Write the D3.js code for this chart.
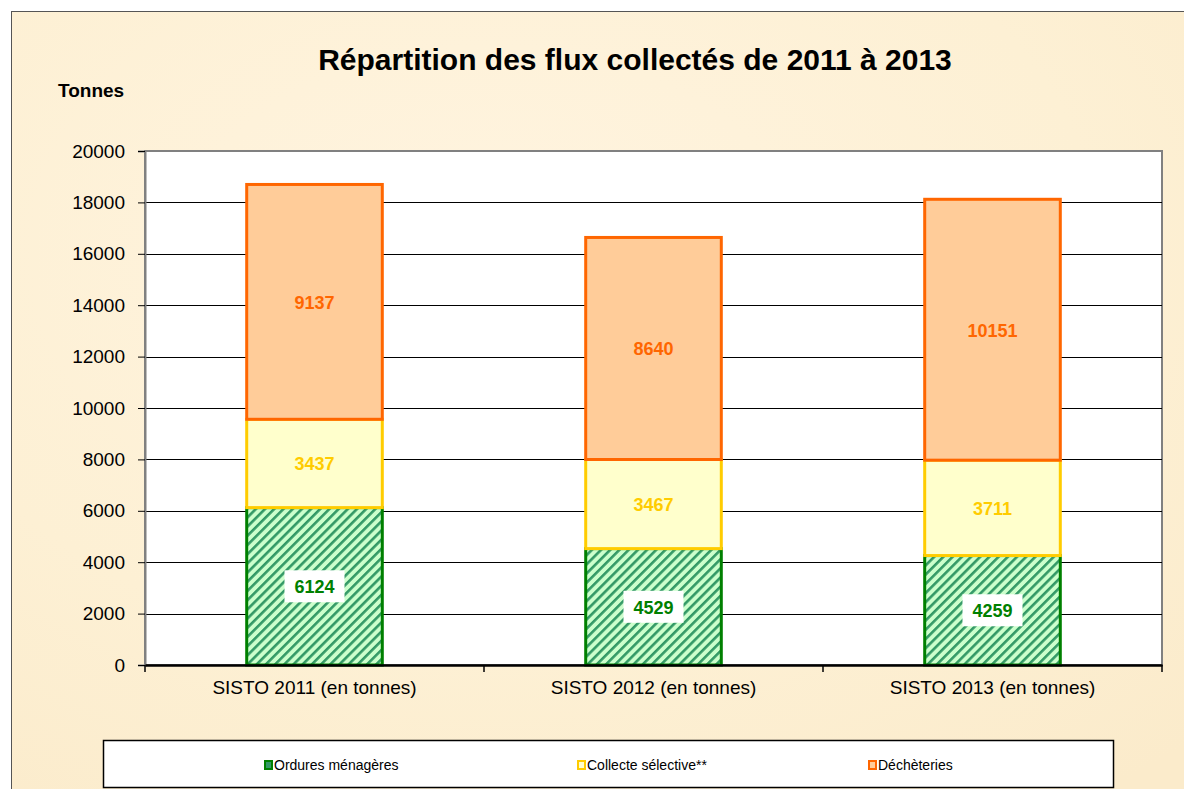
<!DOCTYPE html>
<html>
<head>
<meta charset="utf-8">
<script src="https://cdn.jsdelivr.net/npm/d3@7"></script>
<style>
  body { margin: 0; background: #fff; }
  svg { display: block; font-family: "Liberation Sans", Arial, sans-serif; }
</style>
</head>
<body>
<div id="chart"></div>
<script>
// data
const categories = ["SISTO 2011 (en tonnes)", "SISTO 2012 (en tonnes)", "SISTO 2013 (en tonnes)"];
const seriesNames = ["Ordures ménagères", "Collecte sélective**", "Déchèteries"];
const ordures = [6124, 4529, 4259];
const collecte = [3437, 3467, 3711];
const decheteries = [9137, 8640, 10151];
const yTicks = [0, 2000, 4000, 6000, 8000, 10000, 12000, 14000, 16000, 18000, 20000];

const W = 1184, H = 789;
const plot = {left: 145, top: 151, right: 1162, bottom: 665};

const svg = d3.select("#chart")
  .append("svg")
    .attr("width", W)
    .attr("height", H);

const defs = svg.append("defs");

// parchment-ish background
const bg = defs.append("radialGradient").attr("id", "parch")
  .attr("cx", "40%").attr("cy", "30%").attr("r", "85%");
bg.append("stop").attr("offset", "0%").attr("stop-color", "#fff4e0");
bg.append("stop").attr("offset", "60%").attr("stop-color", "#fdf0d4");
bg.append("stop").attr("offset", "100%").attr("stop-color", "#fbebcb");

// diagonal hatch for the green series
const hatch = defs.append("pattern")
  .attr("id", "hatch")
  .attr("patternUnits", "userSpaceOnUse")
  .attr("width", 6.5).attr("height", 6.5)
  .attr("patternTransform", "rotate(45)");
hatch.append("rect").attr("width", 6.5).attr("height", 6.5).attr("fill", "#ccffcc");
hatch.append("rect").attr("x", 0).attr("width", 2.6).attr("height", 6.5).attr("fill", "#339966");

svg.append("rect")
  .attr("x", 11.5).attr("y", 11.5)
  .attr("width", W + 10).attr("height", H + 10)
  .attr("fill", "url(#parch)")
  .attr("stroke", "#555").attr("stroke-width", 1);

// title
svg.append("text")
  .attr("x", 635).attr("y", 70)
  .attr("text-anchor", "middle")
  .style("font-size", "30px").style("font-weight", "bold")
  .text("Répartition des flux collectés de 2011 à 2013");

svg.append("text")
  .attr("x", 58).attr("y", 97)
  .style("font-size", "19px").style("font-weight", "bold")
  .text("Tonnes");

const x = d3.scaleBand()
  .domain(categories)
  .range([plot.left, plot.right])
  .paddingInner(0).paddingOuter(0);

const barW = x.bandwidth() * 0.4;

const y = d3.scaleLinear()
  .domain([0, 20000])
  .range([plot.bottom, plot.top]);

// plot area
svg.append("rect")
  .attr("x", plot.left).attr("y", plot.top)
  .attr("width", plot.right - plot.left).attr("height", plot.bottom - plot.top)
  .attr("fill", "#fff")
  .attr("stroke", "#808080").attr("stroke-width", 2);

// gridlines
svg.append("g")
  .selectAll("line")
  .data(yTicks.filter(d => d > 0 && d < 20000))
  .join("line")
    .attr("x1", plot.left).attr("x2", plot.right)
    .attr("y1", d => Math.round(y(d)) + 0.5).attr("y2", d => Math.round(y(d)) + 0.5)
    .attr("stroke", "#000").attr("stroke-width", 1.2);

// y axis
const yAxis = svg.append("g")
  .attr("transform", `translate(${plot.left},0)`)
  .call(d3.axisLeft(y).tickValues(yTicks).tickFormat(d3.format("d")).tickSize(7).tickPadding(13));
yAxis.select(".domain").attr("stroke", "#808080").attr("stroke-width", 2);
yAxis.selectAll(".tick line").attr("stroke", "#000");
yAxis.selectAll("text").style("font-size", "19px").attr("fill", "#000")
  .style("font-family", "'Liberation Sans', Arial, sans-serif");

// stacked data
const rows = categories.map((c, i) => ({cat: c, om: ordures[i], cs: collecte[i], dec: decheteries[i]}));
const stack = d3.stack().keys(["om", "cs", "dec"]);
const layers = stack(rows);

const fills = ["url(#hatch)", "#ffffcc", "#ffcc99"];
const strokes = ["#008000", "#ffcc00", "#ff6600"];
const textColors = ["#008000", "#ffcc00", "#ff6600"];

layers.forEach((layer, li) => {
  const g = svg.append("g");
  g.selectAll("rect")
    .data(layer)
    .join("rect")
      .attr("x", d => x(d.data.cat) + (x.bandwidth() - barW) / 2)
      .attr("y", d => y(d[1]))
      .attr("width", barW)
      .attr("height", d => y(d[0]) - y(d[1]))
      .attr("fill", fills[li])
      .attr("stroke", strokes[li])
      .attr("stroke-width", 3);
});

// value labels
layers.forEach((layer, li) => {
  const g = svg.append("g");
  layer.forEach(d => {
    const cx = x(d.data.cat) + x.bandwidth() / 2;
    const cy = (y(d[0]) + y(d[1])) / 2;
    const val = d[1] - d[0];
    if (li === 0) {
      g.append("rect")
        .attr("x", cx - 30).attr("y", cy - 16)
        .attr("width", 60).attr("height", 32)
        .attr("fill", "#fff");
    }
    g.append("text")
      .attr("x", cx).attr("y", cy + 7)
      .attr("text-anchor", "middle")
      .style("font-size", "18px").style("font-weight", "bold")
      .attr("fill", textColors[li])
      .text(val);
  });
});

// x axis
const xAxis = svg.append("g")
  .attr("transform", `translate(0,${plot.bottom})`)
  .call(d3.axisBottom(x).tickSize(0).tickPadding(16));
xAxis.select(".domain").attr("stroke", "#000").attr("stroke-width", 2.5);
xAxis.selectAll("text").style("font-size", "19px").attr("fill", "#000")
  .style("font-family", "'Liberation Sans', Arial, sans-serif");
svg.append("g")
  .selectAll("line")
  .data(categories.map(c => x(c)).concat([plot.right]))
  .join("line")
    .attr("x1", d => d).attr("x2", d => d)
    .attr("y1", plot.bottom).attr("y2", plot.bottom + 7)
    .attr("stroke", "#000").attr("stroke-width", 1.5);

// legend
const legend = svg.append("g");
legend.append("rect")
  .attr("x", 103.5).attr("y", 740.5)
  .attr("width", 1010).attr("height", 47)
  .attr("fill", "#fff").attr("stroke", "#000").attr("stroke-width", 1.5);

const legendX = [265, 578, 869];
const swatchFill = ["#339966", "#ffffcc", "#ffcc99"];
seriesNames.forEach((name, i) => {
  legend.append("rect")
    .attr("x", legendX[i]).attr("y", 761)
    .attr("width", 7).attr("height", 8)
    .attr("fill", swatchFill[i])
    .attr("stroke", strokes[i]).attr("stroke-width", 2);
  legend.append("text")
    .attr("x", legendX[i] + 9).attr("y", 770)
    .style("font-size", "14px")
    .attr("fill", "#000")
    .text(name);
});
</script>
</body>
</html>
